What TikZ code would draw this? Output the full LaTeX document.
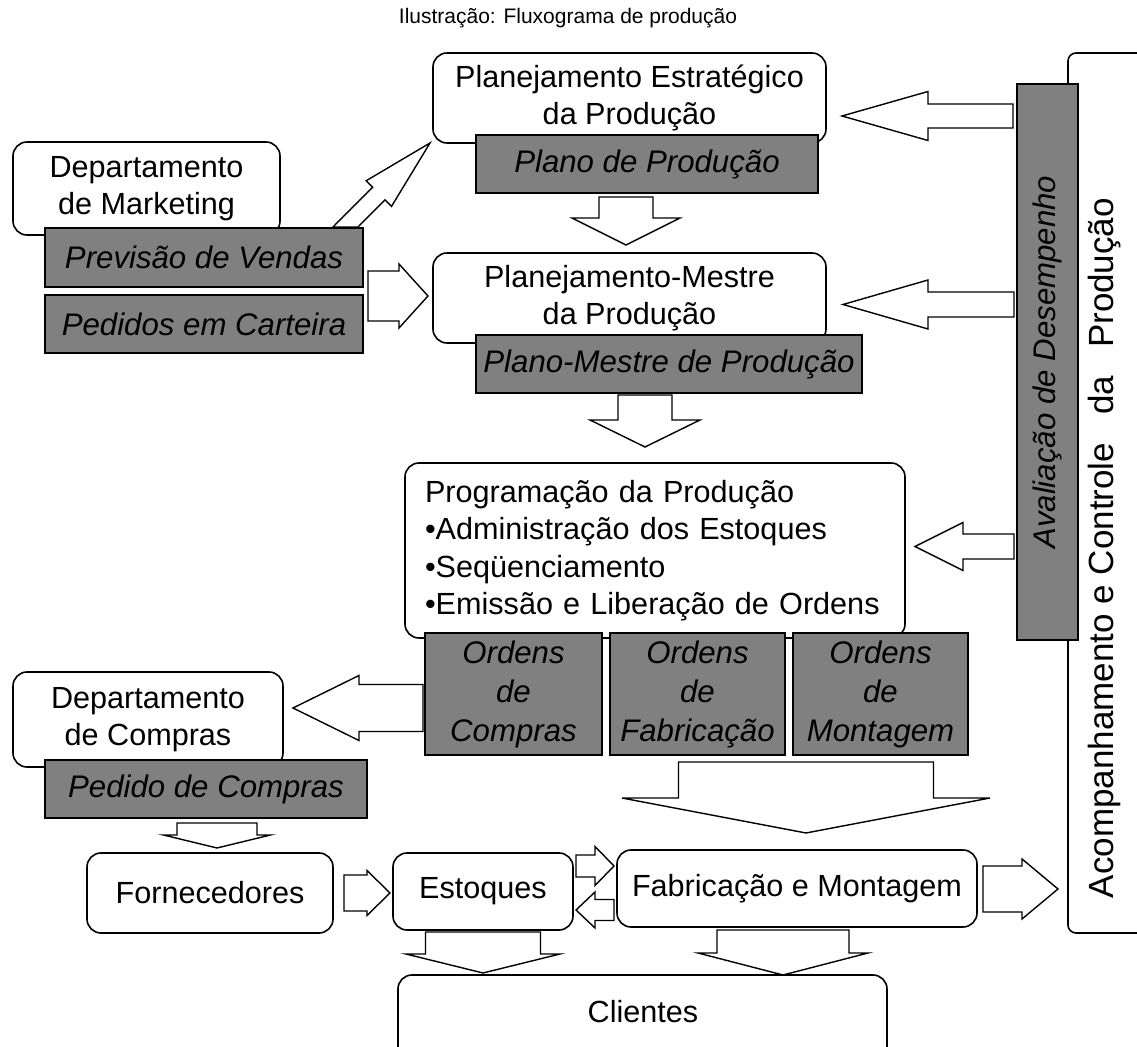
\documentclass[tikz,border=0pt]{standalone}
\usepackage{fontspec}
\setmainfont{Liberation Sans}
\newcommand\mainf{\fontsize{15.3}{18.7}\selectfont}
\newcommand\italf{\fontsize{15.6}{19.5}\selectfont\itshape}
\definecolor{boxgray}{HTML}{808080}
\tikzset{
  wbox/.style={draw, fill=white, rounded corners=7pt, line width=0.8pt, inner sep=0pt, outer sep=0pt, align=center, font=\mainf},
  gbox/.style={draw, fill=boxgray, line width=0.8pt, inner sep=0pt, outer sep=0pt, align=center, font=\italf},
  barrow/.style={draw, fill=white, line width=0.7pt, line join=miter},
}
% box by corners: [opts]{x1}{y1}{x2}{y2}{name}{text}
\newcommand\bx[7][]{\node[#1, minimum width={(#4-#2)*0.5pt}, minimum height={(#5-#3)*0.5pt}] (#6) at ({(#2+#4)/2},{(#3+#5)/2}) {#7};}
% horizontal block arrow: {tail x}{head base x}{tip x}{center y}{shaft half}{head half}
\newcommand\harr[6]{\draw[barrow] (#1,{#4-#5}) -- (#2,{#4-#5}) -- (#2,{#4-#6}) -- (#3,#4) -- (#2,{#4+#6}) -- (#2,{#4+#5}) -- (#1,{#4+#5}) -- cycle;}
% vertical block arrow: {tail y}{head base y}{tip y}{center x}{shaft half}{head half}
\newcommand\varr[6]{\draw[barrow] ({#4-#5},#1) -- ({#4-#5},#2) -- ({#4-#6},#2) -- (#4,#3) -- ({#4+#6},#2) -- ({#4+#5},#2) -- ({#4+#5},#1) -- cycle;}
\begin{document}
\begin{tikzpicture}[x=0.5pt,y=-0.5pt]
\useasboundingbox (0,0) rectangle (1137,1047);
\clip (0,0) rectangle (1137,1047);
\fill[white] (0,0) rectangle (1137,1047);

\node[font=\fontsize{10.5}{12}\selectfont] (title) at (568,18) {Ilustração: Fluxograma de produção};

% right bracket and evaluation bar
\draw[line width=0.8pt, rounded corners=4pt] (1180,53) -- (1068,53) -- (1068,933) -- (1180,933);
\node[font=\fontsize{17.5}{20}\selectfont, rotate=90] (acomp) at (1105,548) {Acompanhamento e Controle\hspace{14pt}da\hspace{14pt}Produção};
\node[gbox, rotate=90, minimum width=278pt, minimum height=30.5pt] (aval) at (1047.5,362) {Avaliação de Desempenho};

% white boxes
\bx[wbox]{433}{53}{826}{143}{pe}{Planejamento Estratégico\\da Produção}
\bx[wbox]{13}{142}{280}{235}{mkt}{Departamento\\de Marketing}
\bx[wbox]{433}{253}{826}{343}{pm}{Planejamento-Mestre\\da Produção}
\bx[wbox, align=left, text width=230pt]{405}{463}{905}{638}{prog}{Programação da Produção\\•Administração dos Estoques\\•Seqüenciamento\\•Emissão e Liberação de Ordens}
\bx[wbox]{13}{672}{283}{767}{dc}{Departamento\\de Compras}
\bx[wbox]{87}{853}{333}{933}{forn}{Fornecedores}
\bx[wbox]{393}{853}{573}{930}{est}{Estoques}
\bx[wbox]{617}{850}{977}{927}{fab}{Fabricação e Montagem}
\draw[line width=0.8pt, rounded corners=7pt] (398,1080) -- (398,975) -- (887,975) -- (887,1080);
\node[font=\mainf] (cli) at (643,1012) {Clientes};

% gray boxes
\bx[gbox]{476}{135}{818}{193}{pp}{Plano de Produção}
\bx[gbox]{45}{228}{363}{287}{pv}{Previsão de Vendas}
\bx[gbox]{45}{295}{363}{353}{pc}{Pedidos em Carteira}
\bx[gbox]{476}{335}{862}{393}{pmp}{Plano-Mestre de Produção}
\bx[gbox]{425}{633}{602}{755}{oc}{Ordens\\de\\Compras}
\bx[gbox]{610}{633}{785}{755}{of}{Ordens\\de\\Fabricação}
\bx[gbox]{793}{633}{968}{755}{om}{Ordens\\de\\Montagem}
\bx[gbox]{45}{760}{367}{818}{pdc}{Pedido de Compras}

% block arrows
\draw[barrow] (333,227) -- (372.6,187.3) -- (366.1,180.8) -- (430,143) -- (391.5,206.4) -- (385,199.9) -- (358,227) -- cycle;
\harr{1013}{928}{842}{116}{12}{24.5}
\harr{1014}{928}{843}{304.5}{12.5}{24.5}
\harr{1014}{963}{915}{546.5}{12.5}{24}
\harr{368}{399}{428}{296}{25}{32}
\harr{423}{359}{293}{708}{23.5}{32.5}
\harr{344}{367}{390}{893}{18}{22.5}
\harr{576}{595}{614}{866}{11}{19.5}
\harr{614}{595}{576}{910}{10.5}{18}
\harr{983}{1022}{1058}{889}{23}{30}
\varr{197}{218}{245}{626}{27}{54}
\varr{395}{420}{447}{645}{27}{55}
\varr{762}{798}{833}{806}{127.5}{184}
\varr{823}{835}{848}{217}{40}{53.5}
\varr{932}{954}{973}{483}{57.5}{77}
\varr{930}{953}{975}{783}{66}{85}
\end{tikzpicture}
\end{document}
